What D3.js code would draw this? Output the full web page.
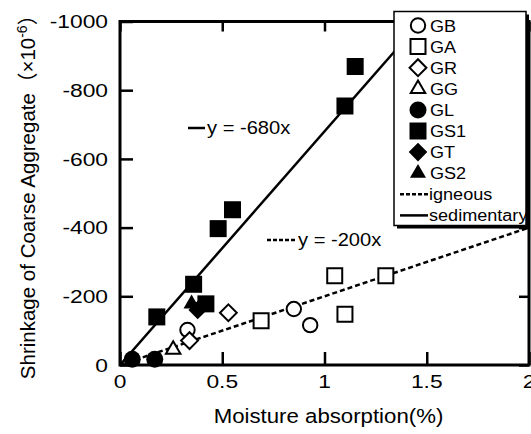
<!DOCTYPE html>
<html>
<head>
<meta charset="utf-8">
<script src="https://cdn.jsdelivr.net/npm/d3@7"></script>
<style>
  html, body { margin: 0; padding: 0; background: #fff; }
  svg { display: block; }
  text { font-family: "Liberation Sans", Arial, "Noto Sans CJK JP", sans-serif; fill: #000; }
</style>
</head>
<body>
<svg id="chart" width="531" height="434"></svg>
<script>
// Moisture absorption (%) vs. shrinkage of coarse aggregate (x10^-6)
const GB  = [[0.33, -102], [0.85, -163], [0.93, -116]];
const GA  = [[0.69, -129], [1.05, -260], [1.10, -148], [1.30, -260]];
const GR  = [[0.34, -71], [0.53, -152]];
const GG  = [[0.26, -45]];
const GL  = [[0.06, -17], [0.17, -17]];
const GS1 = [[0.18, -140], [0.36, -235], [0.42, -178], [0.48, -397], [0.55, -452], [1.10, -754], [1.15, -869]];
const GT  = [[0.38, -160]];
const GS2 = [[0.35, -178]];

const xTicks = [0, 0.5, 1, 1.5, 2];
const yTicks = [0, -200, -400, -600, -800, -1000];

// Fitted slopes: igneous and sedimentary aggregates
const slopeIgneous = -200;
const slopeSedimentary = -680;

const svg = d3.select("#chart");
const x = d3.scaleLinear().domain([0, 2]).range([120, 529]);
const y = d3.scaleLinear().domain([0, -1000]).range([365, 21.5]);

// Text with a slightly wide letterform
function label(parent, px, py, str, size, anchor, sx) {
  return parent.append("text")
    .attr("transform", `translate(${px},${py}) scale(${sx},1)`)
    .attr("text-anchor", anchor)
    .style("font-size", size + "px")
    .text(str);
}

const sym = {
  circle:   d3.symbol().type(d3.symbolCircle).size(Math.PI * 7.2 * 7.2),
  square:   d3.symbol().type(d3.symbolSquare).size(15 * 15),
  diamond:  d3.symbol().type(d3.symbolDiamond2).size(2 * 9.5 * 9.5),
  triangle: d3.symbol().type(d3.symbolTriangle2).size(150)
};
const fsym = {
  circle:   d3.symbol().type(d3.symbolCircle).size(Math.PI * 8.5 * 8.5),
  square:   d3.symbol().type(d3.symbolSquare).size(17 * 17),
  diamond:  d3.symbol().type(d3.symbolDiamond2).size(2 * 10.5 * 10.5),
  triangle: d3.symbol().type(d3.symbolTriangle2).size(185)
};

const series = [
  { name: "GB",  data: GB,  shape: "circle",   filled: false },
  { name: "GA",  data: GA,  shape: "square",   filled: false },
  { name: "GR",  data: GR,  shape: "diamond",  filled: false },
  { name: "GG",  data: GG,  shape: "triangle", filled: false },
  { name: "GL",  data: GL,  shape: "circle",   filled: true },
  { name: "GS1", data: GS1, shape: "square",   filled: true },
  { name: "GT",  data: GT,  shape: "diamond",  filled: true },
  { name: "GS2", data: GS2, shape: "triangle", filled: true }
];

function drawMarker(g, s) {
  const path = g.append("path").attr("d", (s.filled ? fsym : sym)[s.shape]());
  if (s.filled) path.attr("fill", "#000").attr("stroke", "none");
  else path.attr("fill", "#fff").attr("stroke", "#000").attr("stroke-width", 2);
  return path;
}

// Regression lines
const plot = svg.append("g");
plot.append("line")
  .attr("x1", x(0)).attr("y1", y(0))
  .attr("x2", x(-1000 / slopeSedimentary)).attr("y2", y(-1000))
  .attr("stroke", "#000").attr("stroke-width", 2.5);
plot.append("line")
  .attr("x1", x(0)).attr("y1", y(0))
  .attr("x2", x(2)).attr("y2", y(slopeIgneous * 2))
  .attr("stroke", "#000").attr("stroke-width", 2.5)
  .attr("stroke-dasharray", "5,3");

// Data markers
series.forEach(s => {
  s.data.forEach(d => {
    drawMarker(plot, s).attr("transform", `translate(${x(d[0])},${y(d[1])})`);
  });
});

// Fit annotations
plot.append("line").attr("x1", 188).attr("x2", 205).attr("y1", 128).attr("y2", 128)
  .attr("stroke", "#000").attr("stroke-width", 2.5);
label(plot, 207, 134, "y = " + slopeSedimentary + "x", 17.5, "start", 1.15);
plot.append("line").attr("x1", 267).attr("x2", 297).attr("y1", 240).attr("y2", 240)
  .attr("stroke", "#000").attr("stroke-width", 2.5).attr("stroke-dasharray", "4,2");
label(plot, 298, 246, "y = " + slopeIgneous + "x", 17.5, "start", 1.15);

// Frame and axes
const frame = svg.append("g");
frame.append("rect")
  .attr("x", x(0)).attr("y", y(-1000))
  .attr("width", x(2) - x(0)).attr("height", y(0) - y(-1000))
  .attr("fill", "none").attr("stroke", "#000").attr("stroke-width", 3);

const axLeft = d3.axisLeft(y).tickValues(yTicks).tickSize(-13).tickFormat(() => "");
const axRight = d3.axisRight(y).tickValues(yTicks).tickSize(-10).tickFormat(() => "");
const axBottom = d3.axisBottom(x).tickValues(xTicks).tickSize(-13).tickFormat(() => "");
const axTop = d3.axisTop(x).tickValues(xTicks).tickSize(-10).tickFormat(() => "");
[[axLeft, `translate(${x(0)},0)`], [axRight, `translate(${x(2)},0)`],
 [axBottom, `translate(0,${y(0)})`], [axTop, `translate(0,${y(-1000)})`]].forEach(([ax, tr]) => {
  const g = frame.append("g").attr("transform", tr).call(ax);
  g.select(".domain").remove();
  g.selectAll(".tick line").attr("stroke", "#000").attr("stroke-width", 2.5);
});

// Tick labels
yTicks.forEach(v => label(frame, 108, y(v) + 6.8, String(v), 19, "end", 1.2));
xTicks.forEach(v => label(frame, x(v), 388, String(v), 19, "middle", 1.2));

// Axis titles
label(frame, (x(0) + x(2)) / 2 + 4, 423, "Moisture absorption(%)", 19.5, "middle", 1.14);
const yt = frame.append("text")
  .attr("transform", "translate(35,192) rotate(-90)")
  .attr("text-anchor", "middle")
  .style("font-size", "20.5px");
yt.append("tspan").text("Shrinkage of Coarse Aggregate（×10");
yt.append("tspan").attr("dy", -8).style("font-size", "14px").text("-6");
yt.append("tspan").attr("dy", 8).text("）");

// Legend
const lg = svg.append("g");
const lx = 394, ly = 11.5, lw = 132, lh = 214;
lg.append("rect").attr("x", lx + 3).attr("y", ly + 3).attr("width", lw).attr("height", lh)
  .attr("fill", "#000");
lg.append("rect").attr("x", lx).attr("y", ly).attr("width", lw).attr("height", lh)
  .attr("fill", "#fff").attr("stroke", "#000").attr("stroke-width", 1.5);
const rowY = i => ly + 14 + i * 21.1;
series.forEach((s, i) => {
  drawMarker(lg, s).attr("transform", `translate(418,${rowY(i)})`);
  label(lg, 430, rowY(i) + 6, s.name, 16, "start", 1.13);
});
const lineRows = [
  { name: "igneous", dash: "4,2" },
  { name: "sedimentary", dash: null }
];
lineRows.forEach((r, j) => {
  const yy = rowY(series.length + j);
  const ln = lg.append("line").attr("x1", 400).attr("x2", 428).attr("y1", yy).attr("y2", yy)
    .attr("stroke", "#000").attr("stroke-width", 2.5);
  if (r.dash) ln.attr("stroke-dasharray", r.dash);
  label(lg, 429, yy + 6, r.name, 16, "start", 1.13);
});
</script>
</body>
</html>
